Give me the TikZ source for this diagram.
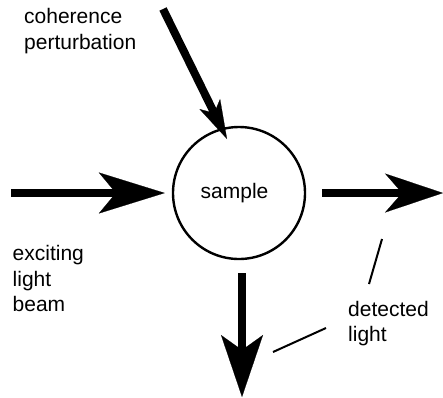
\documentclass[tikz,border=0pt]{standalone}
\usepackage{fontspec}
\setmainfont{Liberation Sans}
\usetikzlibrary{arrows.meta}
\tikzset{
  shaft/.style={line width=8pt, line cap=butt},
  lbl/.style={inner sep=0pt, align=left, anchor=base west, font=\fontsize{21}{25.5}\selectfont},
  leader/.style={line width=2pt},
}
\begin{document}
\begin{tikzpicture}[x=1pt, y=-1pt]
  \useasboundingbox (0,0) rectangle (443,397);

  % the sample
  \node[circle, draw, line width=2.4pt, minimum size=132pt, inner sep=0pt,
        font=\fontsize{21}{25.5}\selectfont] (sample) at (239,193) {sample\hspace*{9pt}};

  % free ends of the beams
  \coordinate (inL)  at (11,193);
  \coordinate (outR) at (443,193);
  \coordinate (outD) at (242,397);
  \coordinate (cohS) at (163,9);
  \coordinate (cohT) at (227,139);

  % exciting beam
  \draw[shaft, -{Stealth[length=66pt, width=41pt, inset=17pt, line width=0.2pt]}]
    (inL) -- ([xshift=-7pt]sample.west);
  % detected beams
  \draw[shaft, -{Stealth[length=58pt, width=39pt, inset=17pt, line width=0.2pt]}]
    ([xshift=16pt]sample.east) -- (outR);
  \draw[shaft, -{Stealth[length=62pt, width=42pt, inset=15pt, line width=0.2pt]}]
    (sample.south -| outD) ++(0,13) -- (outD);
  % perturbation
  \draw[shaft, -{Stealth[length=39pt, width=23pt, inset=10pt, line width=0.2pt]}]
    (cohS) -- (cohT);

  % labels (anchored at the baseline of their last line)
  \node[lbl] (coh) at (24,49.3) {coherence\\perturbation};
  \node[lbl] (exc) at (12.5,311.7) {exciting\\light\\beam};
  \node[lbl] (det) at (348,341.7) {detected\\light};

  % leader lines
  \coordinate (l1a) at (382,239);
  \coordinate (l1b) at (369,284);
  \coordinate (l2a) at (326,328);
  \coordinate (l2b) at (273,352);
  \draw[leader] (l1a) -- (l1b);
  \draw[leader] (l2a) -- (l2b);
\end{tikzpicture}
\end{document}
